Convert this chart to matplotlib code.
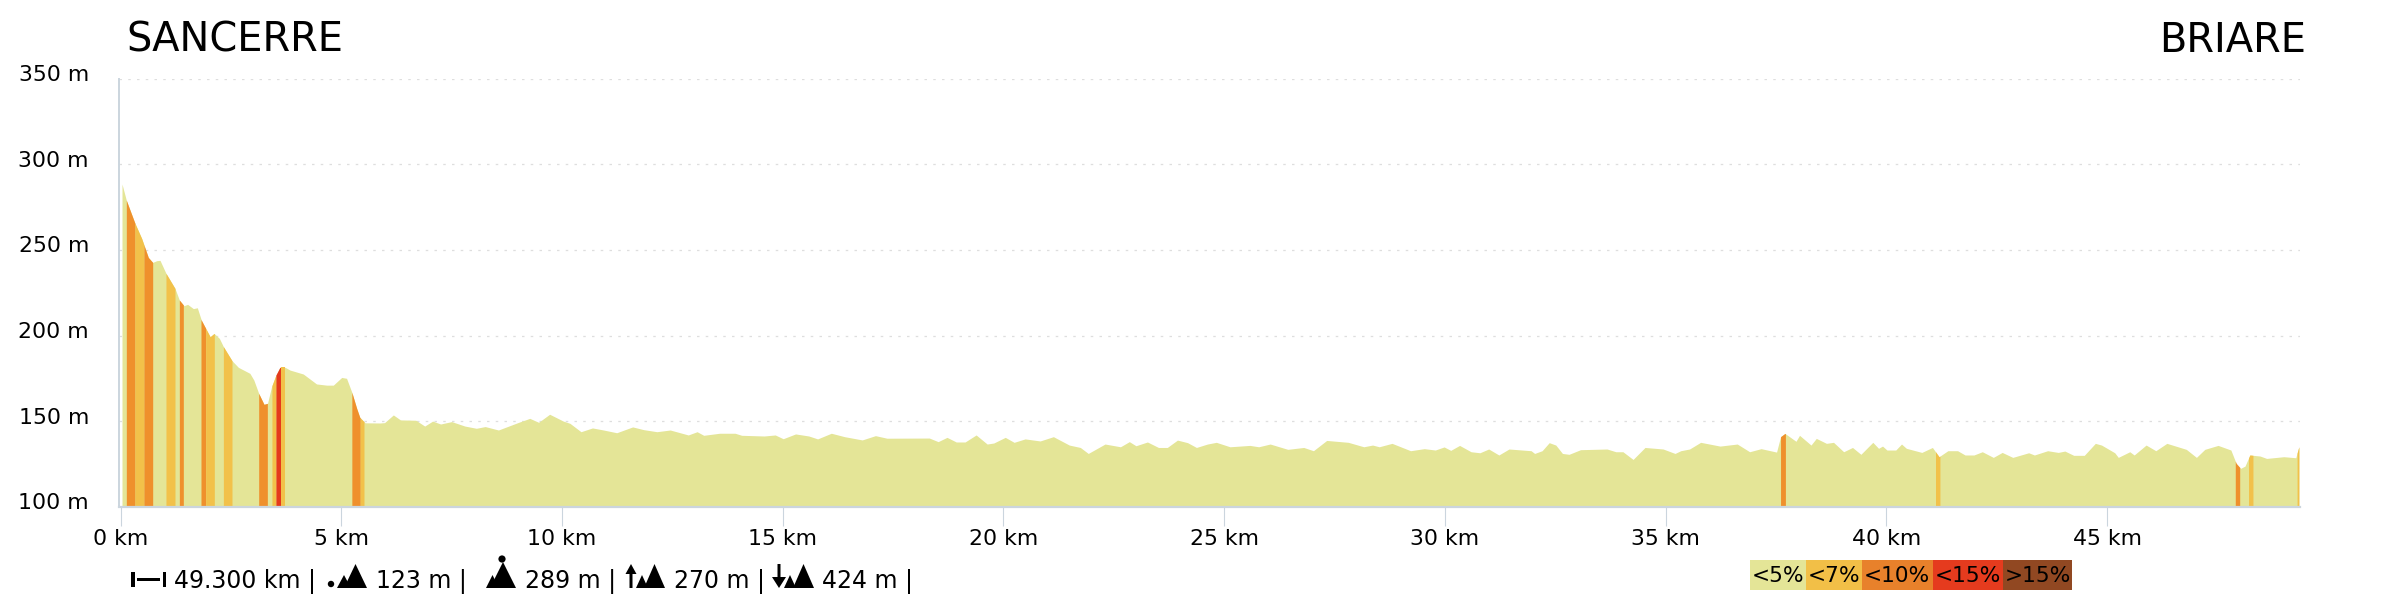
import numpy as np
import matplotlib
matplotlib.use("Agg")
import matplotlib.pyplot as plt
from matplotlib.patches import Polygon, Rectangle, Circle
from matplotlib.transforms import ScaledTranslation, Affine2D

START_NAME = "SANCERRE"
END_NAME = "BRIARE"

km = [0.034,0.132,0.328,0.479,0.63,0.729,0.82,0.895,1.03,1.234,1.333,1.438,1.52,1.65,1.74,1.83,2.03,2.12,2.24,2.33,2.525,2.67,2.93,3.02,3.13,3.25,3.33,3.42,3.52,3.61,3.73,3.84,4.14,4.44,4.67,4.82,5.01,5.12,5.24,5.35,5.42,5.54,5.88,
      5.98,6.18,6.34,6.69,6.89,7.07,7.25,7.5,7.8,8.06,8.26,8.56,9.02,9.27,9.47,9.72,10.03,10.18,10.43,10.69,10.94,11.24,11.6,11.85,12.15,12.45,12.86,13.06,13.21,13.57,13.92,14.07,14.58,14.83,15.01,15.29,15.59,15.79,16.1,16.4,16.8,17.1,17.36,18.32,18.52,18.72,18.93,19.13,19.38,19.63,19.78,20.04,20.24,20.49,20.83,
      21.13,21.49,21.74,21.92,22.3,22.65,22.85,23.0,23.26,23.51,23.71,23.94,24.17,24.37,24.62,24.82,25.13,25.58,25.78,26.04,26.44,26.8,27.02,27.32,27.81,28.16,28.36,28.51,28.8,29.22,29.53,29.78,29.98,30.13,30.33,30.59,30.79,30.99,31.22,31.45,31.95,32.03,32.2,32.36,32.51,32.66,32.81,33.07,33.67,33.87,34.03,34.26,34.53,34.94,35.21,35.34,35.54,35.79,
      36.23,36.62,36.9,37.16,37.51,37.6,37.7,37.95,38.03,38.29,38.41,38.64,38.8,39.03,39.23,39.42,39.69,39.82,39.91,40.01,40.21,40.34,40.45,40.8,41.04,41.19,41.39,41.61,41.78,41.98,42.17,42.42,42.62,42.86,43.22,43.35,43.65,43.89,44.04,44.24,44.48,44.73,44.87,45.17,45.25,45.51,45.61,45.88,46.1,46.35,46.79,47.02,47.21,47.51,47.8,47.92,48.02,48.12,48.23,48.46,48.61,49.0,49.27,49.34]
elevation = [288.5,279,265.5,256.7,245.6,242.7,243.7,243.9,236.3,227.5,220.7,217.4,218.2,215.7,216.2,209,199.3,201.2,198.3,193.5,185.3,181.4,177.9,174,166.2,159.8,160.4,170,176.9,181.4,181.4,179.8,177.5,171.7,171,171,175.5,175,166.8,157.4,152.2,149,148.9,
      149.1,153.6,150.7,150.5,147.1,150,148.3,149.7,147.1,145.8,146.8,144.8,149.3,151.6,149.3,154,150,148.7,143.8,146,144.8,143.2,146.6,145,143.8,144.8,141.9,143.8,141.7,142.9,142.9,141.7,141.3,141.9,139.7,142.5,141.3,139.6,142.9,140.9,139,141.5,140,140.1,138,140.5,137.8,137.8,141.9,136.6,137.2,140.5,137.6,139.6,138.4,
      140.9,136,134.6,131.1,136.6,135,138,135.6,137.8,134.6,134.6,138.9,137.4,134.6,136.6,137.6,135,135.8,135,136.6,133.5,134.6,132.7,138.7,137.6,135,136,135,137,132.7,133.9,133.1,134.9,132.9,135.8,132.1,131.5,133.7,130.2,133.7,132.7,131.1,132.7,137.4,136,131.1,130.6,133.3,133.7,132.1,132.1,127.6,134.6,133.7,131.1,132.7,133.7,137.6,
      135.4,136.6,132.1,133.9,131.9,140.9,142.8,138.2,141.7,136,139.9,137,137.6,132.1,134.6,130.6,137.6,134.1,135.4,133.1,133.1,136.6,134.1,131.7,134.6,129.2,132.7,132.7,130.2,130.2,132.1,128.8,131.7,128.8,131.5,130.2,132.7,131.7,132.5,130,130,137,136,131.5,128.8,132.1,130.2,136,132.7,137,133.5,128.8,133.5,135.8,133.1,125.3,122.4,123.7,130.2,129.6,128.2,129.2,128.6,135]

band_start = [0.132,0.328,0.53,1.03,1.333,1.823,1.929,2.33,3.13,3.43,3.52,3.63,5.24,5.43,37.6,41.11,47.9,48.2,49.3]
band_end   = [0.328,0.53,0.729,1.234,1.423,1.929,2.125,2.525,3.326,3.52,3.63,3.73,5.43,5.515,37.71,41.21,48.0,48.3,49.34]
band_class = [2,1,2,1,2,2,1,1,2,1,3,1,2,1,2,1,2,1,1]
class_colors = ["#e4e597","#f2c14a","#ef902c","#e5391c","#8c4a25"]

y_ticks = [100,150,200,250,300,350]
x_ticks = [0,5,10,15,20,25,30,35,40,45]
legend_labels = ["<5%","<7%","<10%","<15%",">15%"]
legend_colors = ["#e4e597","#f2bf47","#e8812b","#e53b1e","#914822"]
stat_texts = ["49.300 km |","123 m |","289 m |","270 m |","424 m |"]

W, H = 2400, 600
plt.rcParams["font.family"] = "DejaVu Sans"
fig = plt.figure(figsize=(24, 6), dpi=100, facecolor="white")

L, R, T, B = 119, 2300, 78.7, 506.7
ax = fig.add_axes([L/W, 1-B/H, (R-L)/W, (B-T)/H])
X0, PXKM = 120.5, 44.15
ax.set_xlim((L-X0)/PXKM, (R-X0)/PXKM)
ax.set_ylim(100, 350)

km_a = np.array(km); el_a = np.array(elevation)
ax.fill_between(km_a, 100, el_a, color=class_colors[0], lw=0, zorder=2)
for s, e, c in zip(band_start, band_end, band_class):
    inner = km_a[(km_a > s) & (km_a < e)]
    xs = np.concatenate([[s], inner, [e]])
    ax.fill_between(xs, 100, np.interp(xs, km_a, el_a), color=class_colors[c], lw=0, zorder=3)

AXC = "#cbd5de"
for s in ("top", "right"):
    ax.spines[s].set_visible(False)
ax.spines["left"].set_color(AXC); ax.spines["left"].set_linewidth(1.4)
ax.spines["bottom"].set_color(AXC); ax.spines["bottom"].set_linewidth(1.6)
ax.spines["bottom"].set_zorder(5)

ax.set_yticks(y_ticks)
ax.set_yticklabels([f"{v} m" for v in y_ticks])
ax.set_xticks(x_ticks)
ax.set_xticklabels([f"{v} km" for v in x_ticks])
ax.tick_params(axis="y", length=0, pad=21.6, labelsize=15.8, labelcolor="black")
ax.tick_params(axis="x", length=13.7, width=0.8, color=AXC, pad=2, labelsize=15.8, labelcolor="black")
up = ScaledTranslation(0, 5.5/100, fig.dpi_scale_trans)
for lab in ax.get_yticklabels():
    lab.set_transform(lab.get_transform() + up)
ax.grid(axis="y", color="#dedede", lw=0.9, linestyle=(0, (2, 5)), zorder=1)
ax.set_axisbelow(True)

# pixel-space overlay (y pointing down) for header and footer
px = Affine2D().scale(1/W, -1/H).translate(0, 1) + fig.transFigure
def txt(x, y, s, size, ha="left", va="center"):
    fig.text(x, y, s, fontsize=size, ha=ha, va=va, color="black", transform=px)

txt(126, 52, START_NAME, 28.8, va="baseline")
txt(2306.5, 52, END_NAME, 28.8, ha="right", va="baseline")

def shape(pts):
    fig.add_artist(Polygon(pts, closed=True, fc="black", ec="none", transform=px))
def mountains(sx0, sx1, bx0, bx1, stop=575, btop=564, base=588):
    shape([(sx0, base), ((sx0+sx1)/2, stop), (sx1, base)])
    shape([(bx0, base), ((bx0+bx1)/2, btop), (bx1, base)])
BL = 588  # footer baseline

# distance icon
shape([(131,572),(134.5,572),(134.5,587),(131,587)])
shape([(137,578),(160,578),(160,581),(137,581)])
shape([(163,572),(166,572),(166,587),(163,587)])
txt(174, BL, stat_texts[0], 17, va="baseline")
# min
fig.add_artist(Circle((331, 584), 3.2, fc="black", ec="none", transform=px))
mountains(337, 351, 344, 367)
txt(376, BL, stat_texts[1], 17, va="baseline")
# max
fig.add_artist(Circle((502, 559), 3.6, fc="black", ec="none", transform=px))
mountains(486, 499, 490, 516, btop=562)
txt(525, BL, stat_texts[2], 17, va="baseline")
# gain
shape([(631,564),(625.5,574),(629.5,574),(629.5,588),(632.5,588),(632.5,574),(636.5,574)])
mountains(636, 648, 644, 665)
txt(674, BL, stat_texts[3], 17, va="baseline")
# loss
shape([(779,588),(772,577),(777.5,577),(777.5,564),(780.5,564),(780.5,577),(786,577)])
mountains(784, 796, 793, 814)
txt(822, BL, stat_texts[4], 17, va="baseline")

# legend
edges = [1750, 1806, 1862, 1932.5, 2003, 2072]
for i, (lab, col) in enumerate(zip(legend_labels, legend_colors)):
    fig.add_artist(Rectangle((edges[i], 560), edges[i+1]-edges[i], 30, fc=col, ec="none", transform=px))
    txt((edges[i]+edges[i+1])/2, 575.5, lab, 15.6, ha="center")

fig.savefig("out.png", dpi=100, facecolor="white")
